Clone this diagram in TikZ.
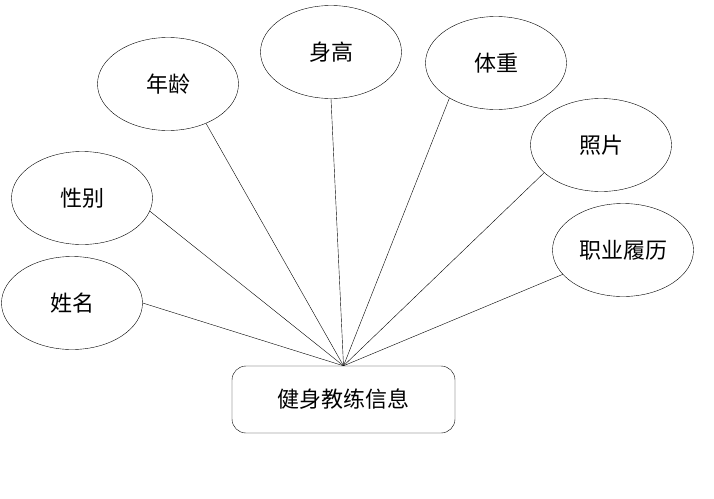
\documentclass[tikz,border=0pt]{standalone}
\usepackage{fontspec}
\newfontfamily\cjk{Noto Sans CJK SC}
\usetikzlibrary{shapes.geometric}

\begin{document}
\begin{tikzpicture}[x=1pt, y=-1pt, every node/.style={font=\cjk\fontsize{22}{26}\selectfont},
    attr/.style={ellipse, draw, thin, minimum width=141pt, minimum height=93pt, inner sep=0pt},
    ent/.style={rectangle, draw, thin, rounded corners=14pt, minimum width=223pt, minimum height=67pt}]
  \useasboundingbox (0,0) rectangle (714,498);
  \node[ent] (coach) at (343.5,399.5) {健身教练信息};
  \coordinate (hub) at (coach.north);
  \node[attr] (xm) at (72,303) {姓名};
  \node[attr] (xb) at (82,198) {性别};
  \node[attr] (nl) at (168,84) {年龄};
  \node[attr] (sg) at (331,52) {身高};
  \node[attr] (tz) at (496,63) {体重};
  \node[attr] (zp) at (601,145) {照片};
  \node[attr] (ll) at (623,250) {职业履历};
  \draw[thin] (xm.0) -- (hub);
  \draw[thin] (xb.-11) -- (hub);
  \draw[thin] (nl.-46) -- (hub);
  \draw[thin] (sg.south) -- (hub);
  \draw[thin] (tz.-143) -- (hub);
  \draw[thin] (zp.-154) -- (hub);
  \draw[thin] (ll.-158) -- (hub);
\end{tikzpicture}
\end{document}
